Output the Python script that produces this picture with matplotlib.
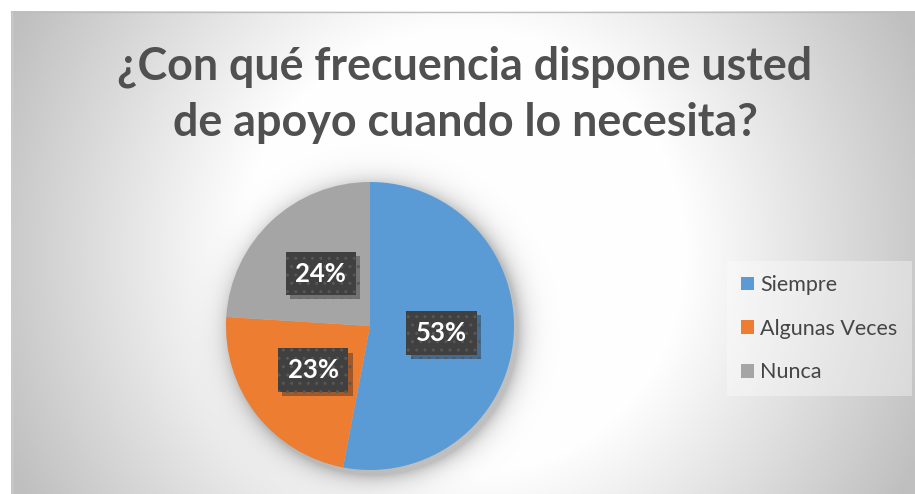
import numpy as np
import matplotlib
matplotlib.use('Agg')
import matplotlib.pyplot as plt
from matplotlib import patheffects as pe

categories = ['Siempre', 'Algunas Veces', 'Nunca']
values = [53, 23, 24]
colors = ['#5B9BD5', '#ED7D31', '#A5A5A5']
title_lines = ['¿Con qué frecuencia dispone usted', 'de apoyo cuando lo necesita?']

W, H = 915, 494
fig = plt.figure(figsize=(W / 100, H / 100), dpi=100)
bg = fig.add_axes([0, 0, 1, 1])
bg.set_xlim(0, W)
bg.set_ylim(H, 0)
bg.axis('off')

# radial gradient background with soft pie shadow
yy, xx = np.mgrid[0:H, 0:W] + 0.5
cx, cy = 463, 253
d = np.hypot(xx - cx, yy - cy)
t = np.clip((d - 220) / 280, 0, 1)
val = 1 - (t ** 1.0) * 0.25
pcx, pcy, pr = 374, 331, 144
dp = np.hypot(xx - pcx, yy - pcy) - pr
shadow = 0.25 * np.exp(-np.clip(dp, 0, None) / 10)
val = val * (1 - shadow)
outside = (xx < 11) | (yy < 12)
val[outside] = 1.0
img = np.dstack([val, val, val])
bg.imshow(img, extent=[0, W, H, 0], interpolation='bilinear', zorder=0)
bg.plot([11, W], [12.5, 12.5], color='#bdbdbd', lw=1, zorder=1)
bg.plot([11.5, 11.5], [12, H], color='#cccccc', lw=1, zorder=1)

fam = ['Lato', 'DejaVu Sans']
fig.text(465 / W, 1 - 80 / H, title_lines[0], ha='center', va='baseline',
         fontsize=32.3, fontweight='bold', color='#505050', family=fam)
fig.text(465 / W, 1 - 136 / H, title_lines[1], ha='center', va='baseline',
         fontsize=32.3, fontweight='bold', color='#505050', family=fam)

ax = fig.add_axes([226 / W, (H - 470) / H, 288 / W, 288 / H])
wedges, texts, autotexts = ax.pie(values, colors=colors, startangle=90, counterclock=False,
                                  autopct='%1.0f%%', pctdistance=0.5,
                                  textprops=dict(color='white', fontsize=18.5, fontweight='bold', family=fam))
ax.set_xlim(-1, 1)
ax.set_ylim(-1, 1)
ax.set_aspect('equal')
for at in autotexts:
    at.set_bbox(dict(boxstyle='square,pad=0.38', facecolor='#404040', edgecolor='#575757',
                     linewidth=0, hatch='..'))
    at.get_bbox_patch().set_path_effects([pe.SimplePatchShadow(offset=(3, -3), alpha=0.35), pe.Normal()])

leg = fig.legend(wedges, categories, loc='upper left', bbox_to_anchor=(727 / W, 1 - 261 / H),
                 frameon=True, fancybox=False, labelcolor='#454545',
                 handlelength=0.6, handleheight=0.6, handletextpad=0.3, labelspacing=1.1,
                 borderpad=0.65, borderaxespad=0, prop=dict(family=fam, size=15.5))
fr = leg.get_frame()
fr.set_facecolor('white')
fr.set_alpha(0.35)
fr.set_linewidth(0)

fig.savefig('out.png', dpi=100)
